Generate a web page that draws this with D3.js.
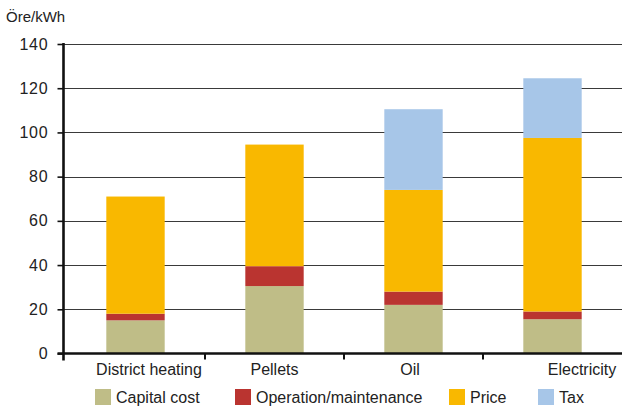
<!DOCTYPE html>
<html>
<head>
<meta charset="utf-8">
<script src="https://cdn.jsdelivr.net/npm/d3@7/dist/d3.min.js"></script>
<style>
  html, body { margin: 0; padding: 0; background: #ffffff; }
  svg { display: block; font-family: "Liberation Sans", Arial, sans-serif; }
</style>
</head>
<body>
<svg id="chart" width="622" height="410"></svg>
<script>
// Heating cost per kWh by energy source, split into cost components
const categories = ["District heating", "Pellets", "Oil", "Electricity"];
const seriesNames = ["Capital cost", "Operation/maintenance", "Price", "Tax"];
const capitalCost = [15, 30.5, 22, 15.5];
const operationMaintenance = [3, 9, 6, 3.5];
const price = [53, 55, 46, 78.5];
const tax = [0, 0, 36.5, 27];
const yTicks = [0, 20, 40, 60, 80, 100, 120, 140];
const unitLabel = "Öre/kWh";

const colors = ["#bfbd87", "#ba3430", "#f9b800", "#a7c6e8"];

const rows = categories.map((c, i) => ({
  category: c,
  "Capital cost": capitalCost[i],
  "Operation/maintenance": operationMaintenance[i],
  "Price": price[i],
  "Tax": tax[i]
}));

const svg = d3.select("#chart");
const axisX = 63.5;
const plotRight = 622;
const baseY = 353.5;
const topY = 44;
const textColor = "#222";

const x = d3.scaleBand().domain(categories).range([66, 622]).paddingInner(0.58).paddingOuter(0.29);
const xb = d3.scaleBand().domain(categories).range([66, 622]);
const y = d3.scaleLinear().domain([0, 140]).range([baseY, topY]);

// gridlines
svg.append("g")
  .selectAll("line")
  .data(yTicks.filter(t => t > 0))
  .join("line")
  .attr("x1", axisX).attr("x2", plotRight)
  .attr("y1", d => Math.round(y(d)) + 0.5).attr("y2", d => Math.round(y(d)) + 0.5)
  .attr("stroke", "#3a3a3a").attr("stroke-width", 1);

// stacked bars
const stack = d3.stack().keys(seriesNames)(rows);
svg.append("g")
  .selectAll("g")
  .data(stack)
  .join("g")
  .attr("fill", (d, i) => colors[i])
  .selectAll("rect")
  .data(d => d)
  .join("rect")
  .attr("x", d => x(d.data.category))
  .attr("width", x.bandwidth())
  .attr("y", d => y(d[1]))
  .attr("height", d => y(d[0]) - y(d[1]));

// y axis
const yAxis = d3.axisLeft(y).tickValues(yTicks).tickSize(6).tickPadding(9).tickFormat(d3.format("d"));
const gy = svg.append("g").attr("transform", `translate(${axisX},0)`).call(yAxis);
gy.select(".domain").remove();
gy.selectAll(".tick line").attr("stroke", "#111").attr("stroke-width", 1.6);
gy.selectAll(".tick text").attr("font-size", 16).attr("fill", textColor)
  .attr("letter-spacing", 0.8)
  .attr("font-family", "'Liberation Sans', Arial, sans-serif");
svg.append("line")
  .attr("x1", axisX).attr("x2", axisX)
  .attr("y1", topY - 1).attr("y2", baseY + 7)
  .attr("stroke", "#111").attr("stroke-width", 2.6);

// x axis baseline and category separators
svg.append("line")
  .attr("x1", axisX - 6).attr("x2", plotRight)
  .attr("y1", baseY).attr("y2", baseY)
  .attr("stroke", "#111").attr("stroke-width", 2.4);
svg.append("g")
  .selectAll("line")
  .data(categories.slice(1))
  .join("line")
  .attr("x1", d => xb(d)).attr("x2", d => xb(d))
  .attr("y1", baseY).attr("y2", baseY + 6)
  .attr("stroke", "#111").attr("stroke-width", 2);

// category labels
const labelNudge = { "District heating": 13.5, "Pellets": 0, "Oil": -3.5, "Electricity": 29.5 };
svg.append("g")
  .selectAll("text")
  .data(categories)
  .join("text")
  .attr("x", d => xb(d) + xb.bandwidth() / 2 + labelNudge[d])
  .attr("y", 375)
  .attr("text-anchor", "middle")
  .attr("font-size", 16)
  .attr("fill", textColor)
  .text(d => d);

// unit label
svg.append("text")
  .attr("x", 6).attr("y", 22)
  .attr("font-size", 15)
  .attr("fill", textColor)
  .text(unitLabel);

// legend
const legendX = [95, 235, 449, 538];
const legend = svg.append("g")
  .selectAll("g")
  .data(seriesNames)
  .join("g")
  .attr("transform", (d, i) => `translate(${legendX[i]},389)`);
legend.append("rect")
  .attr("width", 16).attr("height", 16)
  .attr("fill", (d, i) => colors[i]);
legend.append("text")
  .attr("x", 21).attr("y", 14)
  .attr("font-size", 16)
  .attr("fill", textColor)
  .text(d => d);
</script>
</body>
</html>
